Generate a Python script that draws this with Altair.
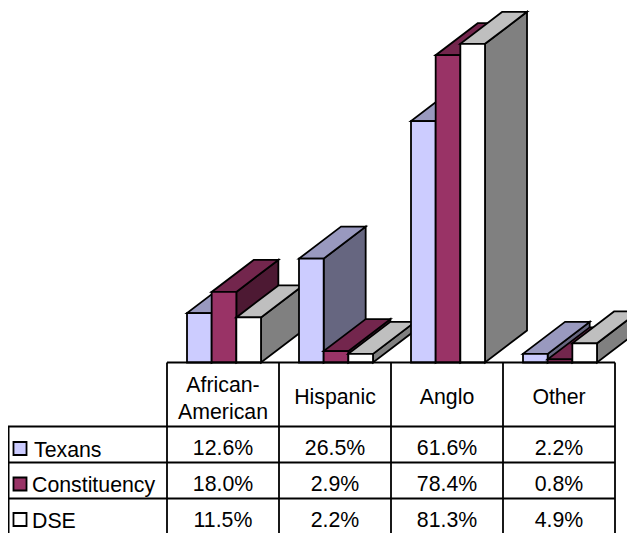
import altair as alt
import pandas as pd

categories = ["African-\nAmerican", "Hispanic", "Anglo", "Other"]
series = ["Texans", "Constituency", "DSE"]
texans = [12.6, 26.5, 61.6, 2.2]
constituency = [18.0, 2.9, 78.4, 0.8]
dse = [11.5, 2.2, 81.3, 4.9]
all_values = [texans, constituency, dse]

front_colors = ["#CCCCFF", "#993366", "#FFFFFF"]
top_colors = ["#9999BF", "#73264D", "#BFBFBF"]
side_colors = ["#666680", "#4D1933", "#808080"]

W, H = 619, 525
CAT_PX = 112.0
PX_PER_PCT = 3.92
X0, Y0 = 167 - 8, 362.5 - 8
GAP = 20 / CAT_PX
BAR = 24.67 / CAT_PX
DX = 42 / CAT_PX
DY = 32 / PX_PER_PCT
STROKE = 1.8

xs = alt.Scale(domain=[-X0 / CAT_PX, (W - X0) / CAT_PX], range=[0, W], nice=False, zero=False)
ys = alt.Scale(domain=[(Y0 - H) / PX_PER_PCT, Y0 / PX_PER_PCT], range=[H, 0], nice=False, zero=False)
X = lambda f="x": alt.X(f"{f}:Q", scale=xs, axis=None)
X2 = alt.X2("x2:Q")
Y = lambda f="y": alt.Y(f"{f}:Q", scale=ys, axis=None)
Y2 = alt.Y2("y2:Q")

layers = []
for c in range(len(categories)):
    for s in range(len(series)):
        v = all_values[s][c]
        left = c + GAP + s * BAR
        right = left + BAR
        side = pd.DataFrame({"x": [right, right + DX], "y": [v, v + DY], "y2": [0, DY]})
        top = pd.DataFrame({"y": [v, v + DY], "x": [left, left + DX], "x2": [right, right + DX]})
        front = pd.DataFrame({"x": [left], "x2": [right], "y": [v], "y2": [0]})
        layers.append(alt.Chart(side).mark_area(fill=side_colors[s], stroke="black", strokeWidth=STROKE,
                                                opacity=1, clip=True, orient="vertical")
                      .encode(x=X(), y=Y(), y2=Y2))
        layers.append(alt.Chart(top).mark_area(fill=top_colors[s], stroke="black", strokeWidth=STROKE,
                                               opacity=1, clip=True, orient="horizontal")
                      .encode(y=Y(), x=X(), x2=X2))
        layers.append(alt.Chart(front).mark_rect(fill=front_colors[s], stroke="black", strokeWidth=STROKE, clip=True)
                      .encode(x=X(), x2=X2, y=Y(), y2=Y2))

# table grid (page pixels minus the 8px margin)
row_lines = [426.5 - 8, 462.5 - 8, 498.5 - 8]
col_lines = [167 - 8 + i * CAT_PX for i in range(5)]
px = lambda f: alt.X(f"{f}:Q", scale=None, axis=None)
py = lambda f: alt.Y(f"{f}:Q", scale=None, axis=None)
h_rules = pd.DataFrame({"x": [col_lines[0]] + [0] * 3, "x2": [col_lines[-1]] * 4,
                        "y": [Y0] + row_lines})
v_rules = pd.DataFrame({"x": col_lines + [0.6], "y": [Y0] * 5 + [row_lines[0]], "y2": [H] * 6})
layers.append(alt.Chart(h_rules).mark_rule(color="black", strokeWidth=1.8)
              .encode(x=px("x"), x2=alt.X2("x2:Q"), y=py("y")))
layers.append(alt.Chart(v_rules).mark_rule(color="black", strokeWidth=1.8)
              .encode(x=px("x"), y=py("y"), y2=alt.Y2("y2:Q")))

FONT = "Liberation Sans"
FS = 21.3
head_rows = []
for c, cat in enumerate(categories):
    lines = cat.split("\n")
    bases = [391.7 - 8, 419 - 8] if len(lines) == 2 else [404 - 8]
    for line, b in zip(lines, bases):
        head_rows.append({"x": c + 0.5, "y": b, "label": line})
layers.append(alt.Chart(pd.DataFrame(head_rows)).mark_text(font=FONT, fontSize=FS, baseline="alphabetic", color="black")
              .encode(x=X(), y=py("y"), text="label:N"))

row_base = [455 - 8, 490.7 - 8, 526.7 - 8]
rows = []
for s in range(3):
    for c in range(4):
        rows.append({"x": c + 0.5, "y": row_base[s], "label": f"{all_values[s][c]:.1f}%"})
layers.append(alt.Chart(pd.DataFrame(rows)).mark_text(font=FONT, fontSize=FS, baseline="alphabetic", color="black")
              .encode(x=X(), y=py("y"), text="label:N"))

names = pd.DataFrame({"x": [34 - 8, 32 - 8, 32 - 8], "y": [456.7 - 8, 492 - 8, 527.7 - 8], "label": series})
layers.append(alt.Chart(names).mark_text(font=FONT, fontSize=FS, align="left", baseline="alphabetic", color="black")
              .encode(x=px("x"), y=py("y"), text="label:N"))

keys = pd.DataFrame({"x": [20 - 8] * 3, "y": [448.5 - 8, 484 - 8, 519.5 - 8], "c": front_colors})
layers.append(alt.Chart(keys).mark_square(size=170, opacity=1, filled=True, stroke="black", strokeWidth=1.8)
              .encode(x=px("x"), y=py("y"), fill=alt.Fill("c:N", scale=None)))

chart = alt.layer(*layers).resolve_scale(x="independent", y="independent").properties(
    width=W, height=H, padding=0, autosize=alt.AutoSizeParams(type="none")
).configure_view(stroke=None)

chart.save("out.html", embed_options={"renderer": "svg", "actions": False})
